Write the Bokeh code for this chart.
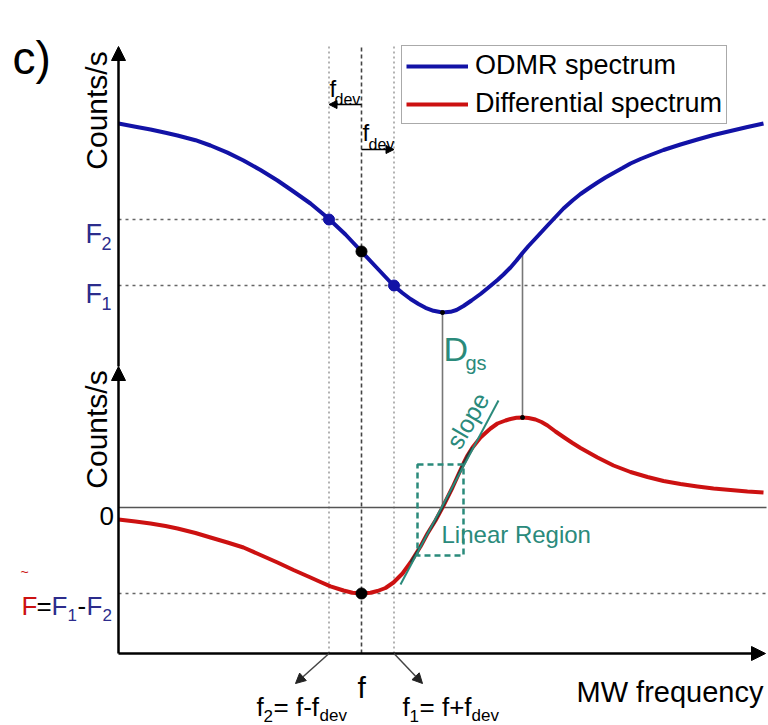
import math
from bokeh.plotting import figure
from bokeh.models import Range1d, Label, Arrow, NormalHead, Legend, LegendItem
from bokeh.embed import file_html
from bokeh.resources import INLINE

# ---------------- data (detuning in MHz from D_gs, signals in arbitrary units) ----
freq_odmr = [-32.4, -30.7, -29.2, -27.7, -26.5, -24.7, -23.2, -21.5, -19.9, -18.2,
             -16.5, -14.9, -13.2, -11.4, -9.7, -8.1, -6.5, -4.9, -4.0, -3.2,
             -2.4, -1.7, -0.9, 0.0, 0.8, 1.4, 2.1, 2.9, 3.8, 4.6,
             5.5, 6.1, 6.8, 7.4, 8.0, 8.6, 9.3, 9.9, 10.5, 11.3,
             12.1, 13.0, 13.8, 14.6, 15.5, 16.3, 17.1, 18.0, 18.8, 19.8,
             20.8, 22.1, 23.8, 25.5, 27.1, 28.8, 30.5, 32.1]
counts_odmr = [0.977, 0.9738, 0.971, 0.9677, 0.965, 0.9603, 0.955, 0.9479, 0.940, 0.9305,
               0.920, 0.909, 0.897, 0.882, 0.866, 0.849, 0.832, 0.815, 0.8075, 0.8015,
               0.7965, 0.7927, 0.7897, 0.788, 0.7887, 0.7905, 0.7945, 0.800, 0.8065, 0.813,
               0.8205, 0.826, 0.833, 0.840, 0.8475, 0.8545, 0.862, 0.8685, 0.875, 0.8835,
               0.892, 0.900, 0.9065, 0.912, 0.918, 0.923, 0.9276, 0.9324, 0.937, 0.9415,
               0.9455, 0.9505, 0.956, 0.961, 0.9655, 0.9695, 0.9735, 0.977]

freq_diff = [-32.4, -30.7, -29.2, -27.7, -26.5, -24.7, -23.2, -21.5, -19.9, -18.2,
             -16.5, -14.9, -13.2, -12.2, -11.2, -9.9, -9.0, -8.1, -7.2, -6.5,
             -5.7, -4.9, -4.0, -3.2, -2.2, -1.5, -0.7, 0.0, 0.5, 1.0,
             1.5, 2.1, 2.5, 3.0, 3.4, 3.8, 4.8, 5.5, 6.3, 6.8,
             7.4, 8.0, 8.6, 9.3, 9.9, 10.5, 11.3, 12.1, 13.0, 13.8,
             15.5, 17.1, 18.8, 20.5, 22.1, 23.8, 25.5, 27.1, 28.8, 30.5, 32.1]
diff_signal = [-1.2, -1.4, -1.6, -1.85, -2.1, -2.55, -3.0, -3.5, -4.0, -4.75,
               -5.5, -6.25, -7.0, -7.45, -7.88, -8.3, -8.52, -8.6, -8.53, -8.35,
               -8.05, -7.5, -6.6, -5.5, -3.9, -2.6, -1.3, 0.0, 1.0, 2.0,
               3.1, 4.4, 5.2, 6.0, 6.5, 7.0, 7.9, 8.4, 8.7, 8.85,
               8.97, 9.0, 8.95, 8.8, 8.55, 8.2, 7.6, 7.05, 6.45, 5.95,
               5.0, 4.2, 3.55, 3.05, 2.65, 2.35, 2.1, 1.9, 1.75, 1.6, 1.5]

f_center = -8.1
f_dev = 3.25
F2_level = 0.881
F1_level = 0.815
F_center_level = 0.849
F_tilde = -8.6
dgs_x = 0.0
dgs_odmr = 0.788
peak_x = 8.0
peak_odmr = 0.8475
peak_diff = 9.0
linear_x = [-2.5, 2.1]
linear_y = [-4.8, 4.3]
slope_x = [-4.2, 5.6]
slope_y = [-7.7, 10.7]
linear_overlay = [-3.3, 3.0]

# ---------------- layout helpers (picture position -> data units) -------------
def X(px):
    return (px - 442) / 10.0

def Y(py):
    return (507 - py) / 10.0

def V(py):
    return (1100 - py) / 1000.0

def odmr_to_diff(v):
    return Y(1100 - 1000 * v)

BLUE = "#1212a6"
RED = "#cc1111"
TEAL = "#2a8a7b"
FBLUE = "#2c2c8c"
FONT = "Liberation Sans"

f2 = f_center - f_dev
f1 = f_center + f_dev

p = figure(width=768, height=725, x_range=Range1d(X(0), X(768)),
           y_range=Range1d(Y(725), Y(0)), output_backend="svg",
           toolbar_location=None, min_border=0, x_axis_location=None,
           y_axis_location=None, outline_line_color=None)
p.extra_y_ranges = {"odmr": Range1d(V(725), V(0))}
p.grid.visible = False
p.background_fill_color = "white"
p.border_fill_color = "white"

# vertical dotted guide lines
p.segment(x0=[f2, f1], y0=[Y(653)] * 2, x1=[f2, f1], y1=[Y(45)] * 2,
          line_color="#8a8a8a", line_width=1.3, line_dash="2 3")
p.segment(x0=[f_center], y0=[Y(653)], x1=[f_center], y1=[Y(45)],
          line_color="#444444", line_width=1.6, line_dash="4 3")

# horizontal dotted lines
p.segment(x0=[X(118)] * 2, y0=[F2_level, F1_level], x1=[X(766)] * 2,
          y1=[F2_level, F1_level], y_range_name="odmr",
          line_color="#666666", line_width=1.6, line_dash="3 4")
p.segment(x0=[X(118)], y0=[F_tilde], x1=[X(766)], y1=[F_tilde],
          line_color="#666666", line_width=1.6, line_dash="3 4")

# zero line of lower panel
p.segment(x0=[X(118)], y0=[0], x1=[X(766)], y1=[0], line_color="#555555", line_width=1.6)

# solid connection lines
p.segment(x0=[dgs_x, peak_x], y0=[odmr_to_diff(dgs_odmr), odmr_to_diff(peak_odmr)],
          x1=[dgs_x, peak_x], y1=[0, peak_diff], line_color="#777777", line_width=1.6)

# curves
r_odmr = p.line(freq_odmr, counts_odmr, y_range_name="odmr", line_color=BLUE,
                line_width=4, line_join="round")
r_diff = p.line(freq_diff, diff_signal, line_color=RED, line_width=4, line_join="round")

# linear region overlay on differential curve
lin_x = [x for x in freq_diff if linear_overlay[0] <= x <= linear_overlay[1]]
lin_y = [y for x, y in zip(freq_diff, diff_signal) if linear_overlay[0] <= x <= linear_overlay[1]]
p.line(lin_x, lin_y, line_color="#333333", line_width=2.5, line_join="round")

# slope tangent
p.line(slope_x, slope_y, line_color=TEAL, line_width=2)

# linear region box
p.quad(left=[linear_x[0]], right=[linear_x[1]], bottom=[linear_y[0]], top=[linear_y[1]],
       fill_color=None, line_color=TEAL, line_width=2.5, line_dash="6 4")

# dots
p.scatter([f2, f1], [F2_level, F1_level], y_range_name="odmr", size=11,
          fill_color=BLUE, line_color=BLUE)
p.scatter([f_center], [F_center_level], y_range_name="odmr", size=11,
          fill_color="black", line_color="black")
p.scatter([f_center], [F_tilde], size=11, fill_color="black", line_color="black")
p.scatter([dgs_x, peak_x], [odmr_to_diff(dgs_odmr), peak_diff], size=4,
          fill_color="black", line_color="black")

# axes drawn as arrows
ax_x = X(118)
ax_y = Y(653)
p.add_layout(Arrow(x_start=ax_x, y_start=ax_y, x_end=ax_x, y_end=Y(366),
                   line_width=2.5, line_color="black",
                   end=NormalHead(size=14, fill_color="black", line_color="black")))
p.add_layout(Arrow(x_start=ax_x, y_start=Y(366), x_end=ax_x, y_end=Y(46),
                   line_width=2.5, line_color="black",
                   end=NormalHead(size=14, fill_color="black", line_color="black")))
p.add_layout(Arrow(x_start=ax_x, y_start=ax_y, x_end=X(765), y_end=ax_y,
                   line_width=2.5, line_color="black",
                   end=NormalHead(size=14, fill_color="black", line_color="black")))

# f_dev arrows
p.add_layout(Arrow(x_start=f_center, y_start=Y(104), x_end=f2, y_end=Y(104),
                   line_width=1.5, line_color="black",
                   end=NormalHead(size=8, fill_color="black", line_color="black")))
p.add_layout(Arrow(x_start=f_center, y_start=Y(149), x_end=f1, y_end=Y(149),
                   line_width=1.5, line_color="black",
                   end=NormalHead(size=8, fill_color="black", line_color="black")))

# bottom diagonal arrows
p.add_layout(Arrow(x_start=f2, y_start=ax_y, x_end=X(295), y_end=Y(683),
                   line_width=1.5, line_color="#444444",
                   end=NormalHead(size=10, fill_color="#222222", line_color="#222222")))
p.add_layout(Arrow(x_start=f1, y_start=ax_y, x_end=X(422), y_end=Y(683),
                   line_width=1.5, line_color="#444444",
                   end=NormalHead(size=10, fill_color="#222222", line_color="#222222")))


def lab(text, px, py, size, color="black", align="left", baseline="alphabetic", angle=0.0):
    p.add_layout(Label(x=X(px), y=Y(py), text=text, text_font=FONT,
                       text_font_size=f"{size}px", text_color=color,
                       text_align=align, text_baseline=baseline, angle=angle))


lab("c)", 12, 57, 46)
lab("Counts/s", 96, 110, 30, align="center", baseline="middle", angle=math.pi / 2)
lab("Counts/s", 96, 429, 30, align="center", baseline="middle", angle=math.pi / 2)

lab("F", 85, 233, 27, FBLUE)
lab("2", 101, 243, 18, FBLUE)
lab("F", 85, 293, 27, FBLUE)
lab("1", 101, 303, 18, FBLUE)
lab("0", 99, 515, 26)

# F~ = F1 - F2
lab("F", 21, 605, 26, RED)
lab("~", 20, 571, 14, RED)
lab("=", 36, 605, 26)
lab("F", 51, 605, 26, FBLUE)
lab("1", 67, 614, 17, FBLUE)
lab("-", 77, 605, 26)
lab("F", 86, 605, 26, FBLUE)
lab("2", 102, 614, 17, FBLUE)

# f_dev labels
lab("f", 329, 88, 24)
lab("dev", 334, 99, 16)
lab("f", 362, 132, 24)
lab("dev", 368, 144, 16)

# D_gs, slope, linear region
lab("D", 443, 348, 34, TEAL)
lab("gs", 465, 362, 20, TEAL)
lab("slope", 467, 420, 25, TEAL, align="center", baseline="middle", angle=math.radians(60))
lab("Linear Region", 441, 534, 24, TEAL)

# x-axis labels
lab("f", 357, 687, 30)
lab("f", 256, 706, 26)
lab("2", 263, 715, 17)
lab("= f-f", 273, 706, 26)
lab("dev", 319, 715, 17)
lab("f", 402, 706, 26)
lab("1", 409, 715, 17)
lab("= f+f", 419, 706, 26)
lab("dev", 471, 715, 17)
lab("MW frequency", 576, 691, 29)

# legend
legend = Legend(items=[LegendItem(label="ODMR spectrum", renderers=[r_odmr]),
                       LegendItem(label="Differential spectrum", renderers=[r_diff])],
                location=(401, 725 - 124), orientation="vertical",
                label_text_font=FONT, label_text_font_size="27px",
                label_text_color="black", glyph_width=62, glyph_height=24,
                label_standoff=7, padding=4, spacing=7, margin=0,
                border_line_color="#555555", border_line_width=1.5,
                background_fill_color="white", background_fill_alpha=1.0)
p.add_layout(legend)

open("out.html", "w").write(file_html(p, INLINE))
